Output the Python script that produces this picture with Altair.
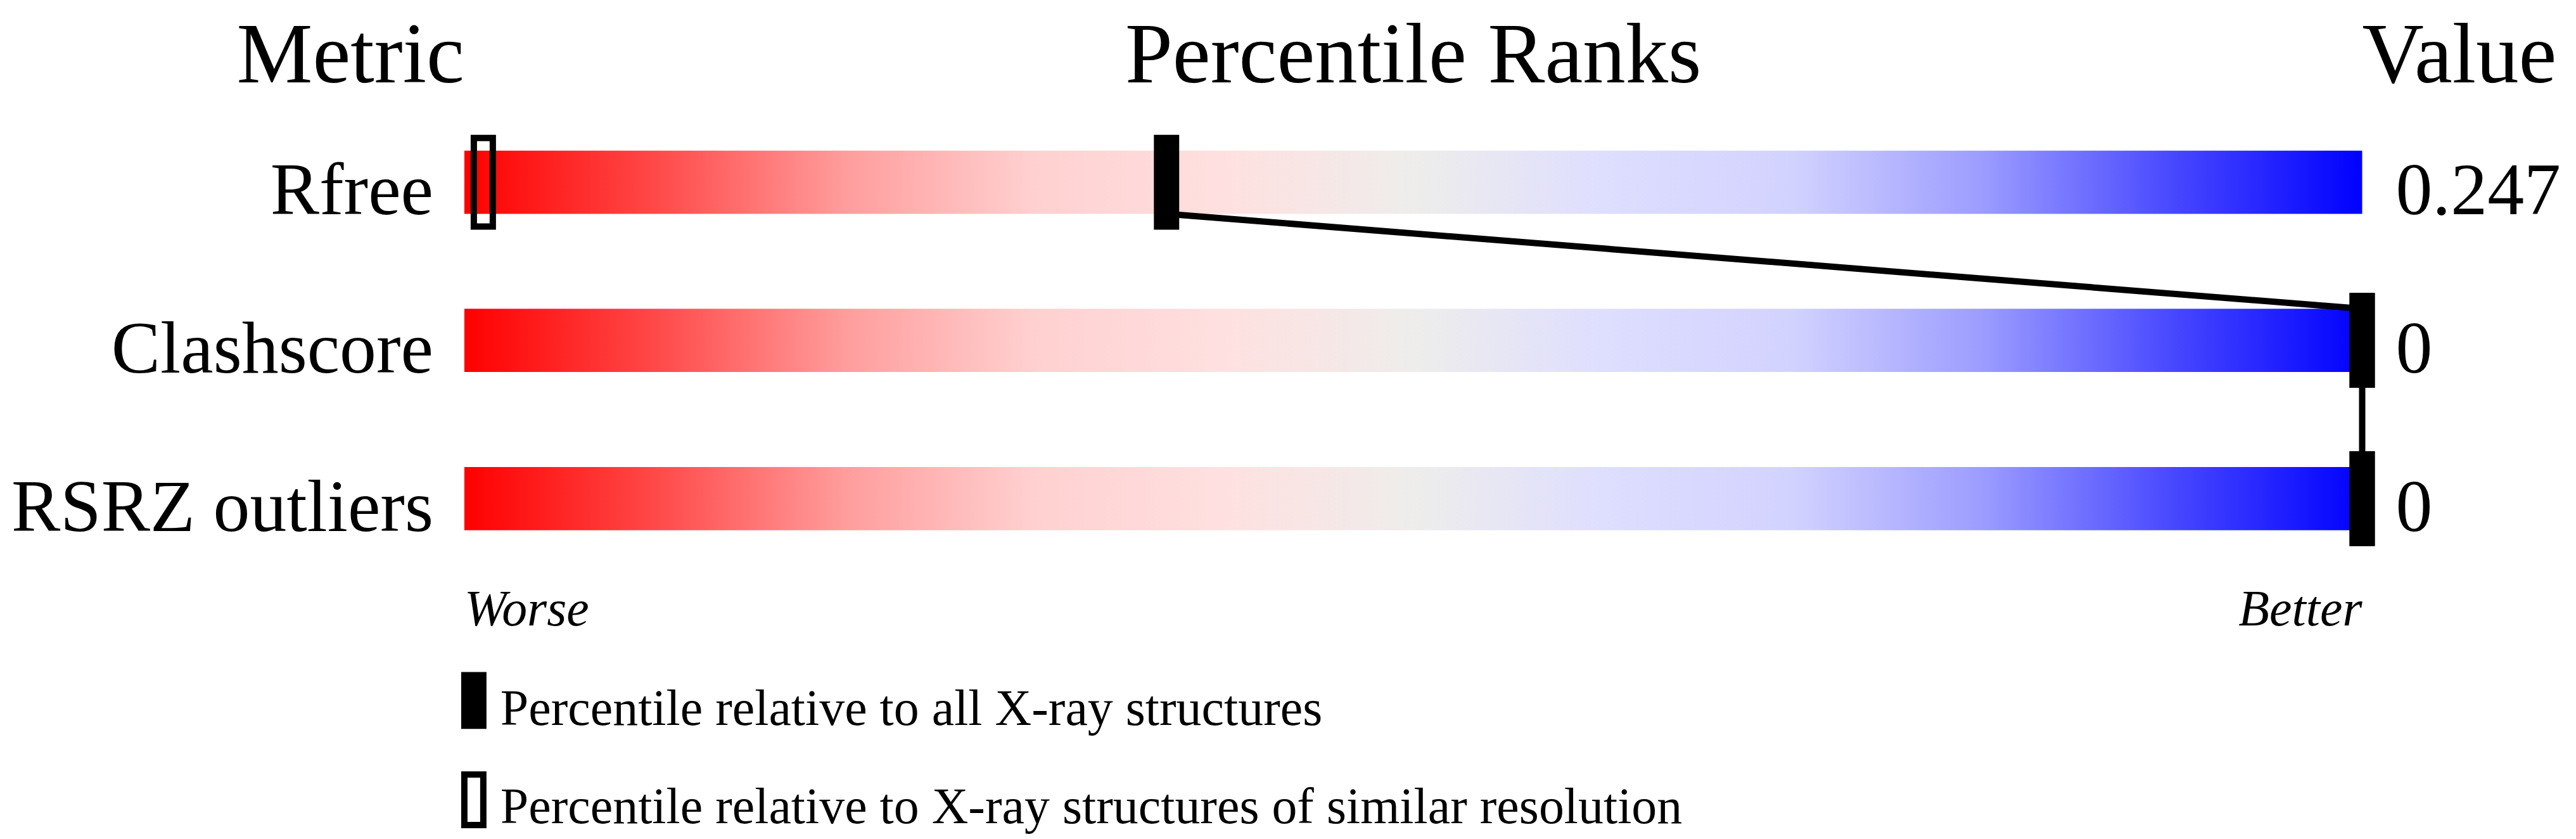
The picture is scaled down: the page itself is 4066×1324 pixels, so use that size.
import altair as alt
import pandas as pd

# ---- data ----
metrics = ["Rfree", "Clashscore", "RSRZ outliers"]
pct_all = [37, 100, 100]          # percentile relative to all X-ray structures
pct_similar = [1, 100, 100]       # percentile relative to similar resolution
values = ["0.247", "0", "0"]
scale_min, scale_max = 0, 100
headers = ["Metric", "Percentile Ranks", "Value"]
ends = ["Worse", "Better"]
legend_labels = [
    "Percentile relative to all X-ray structures",
    "Percentile relative to X-ray structures of similar resolution",
]

rows = list(range(len(metrics)))
df = pd.DataFrame({
    "metric": metrics, "row": rows, "pct_all": pct_all,
    "pct_similar": pct_similar, "value": values,
    "lo": [scale_min] * len(metrics), "hi": [scale_max] * len(metrics),
})
links = pd.DataFrame({
    "row": rows[:-1], "row_next": rows[1:],
    "p": pct_all[:-1], "p_next": pct_all[1:],
})
one = pd.DataFrame({"k": [0]})

# ---- styling ----
FONT = "Liberation Serif"
W, H = 4056, 1310
x_scale = alt.Scale(domain=[scale_min, scale_max], range=[726, 3726], nice=False, zero=False)
y_scale = alt.Scale(domain=[0, len(metrics) - 1], range=[279, 779], nice=False, zero=False)

stops = [
    (0.0, "#ff0000"), (0.1, "#ff4848"), (0.2, "#ff9c9c"), (0.3, "#ffd0d0"),
    (0.4, "#ffe0e0"), (0.5, "#eeedeb"), (0.6, "#dedeff"), (0.7, "#d2d2ff"),
    (0.8, "#9c9cff"), (0.9, "#4848ff"), (1.0, "#0000ff"),
]
grad = alt.LinearGradient(
    gradient="linear",
    stops=[alt.GradientStop(color=c, offset=o) for o, c in stops],
    x1=0, x2=1, y1=0, y2=0,
)

X = lambda f: alt.X(f, scale=x_scale, axis=None)
Y = lambda f: alt.Y(f, scale=y_scale, axis=None)

bars = alt.Chart(df).mark_rect(color=grad, yOffset=-50, y2Offset=50).encode(
    x=X("lo:Q"), x2="hi", y=Y("row:Q"), y2="row"
)

open_marks = alt.Chart(df).mark_rect(
    fill="transparent", stroke="black", strokeWidth=10,
    xOffset=-15, x2Offset=15, yOffset=-70, y2Offset=70,
).encode(x=X("pct_similar:Q"), x2="pct_similar", y=Y("row:Q"), y2="row")

connector = alt.Chart(links).mark_rule(
    color="black", strokeWidth=10, yOffset=50, y2Offset=-50
).encode(x=X("p:Q"), x2="p_next", y=Y("row:Q"), y2="row_next")

filled_marks = alt.Chart(df).mark_rect(
    color="black", xOffset=-20, x2Offset=20, yOffset=-75, y2Offset=75,
).encode(x=X("pct_all:Q"), x2="pct_all", y=Y("row:Q"), y2="row")

row_labels = alt.Chart(df).mark_text(
    align="right", baseline="alphabetic", font=FONT, fontSize=116, dx=-49, dy=51, color="black"
).encode(x=X("lo:Q"), y=Y("row:Q"), text="metric:N")

value_labels = alt.Chart(df).mark_text(
    align="left", baseline="alphabetic", font=FONT, fontSize=116, dx=53, dy=51, color="black"
).encode(x=X("hi:Q"), y=Y("row:Q"), text="value:N")

def header(txt, pos, align, dx=0):
    return alt.Chart(one).mark_text(
        align=align, baseline="alphabetic", font=FONT, fontSize=135, dx=dx, color="black"
    ).encode(x=alt.X(datum=pos, scale=x_scale, axis=None), y=alt.value(121), text=alt.value(txt))

h1 = header(headers[0], scale_min, "right")
h2 = header(headers[1], (scale_min + scale_max) / 2, "center")
h3 = header(headers[2], scale_max, "left")

def end_label(txt, pos, align):
    return alt.Chart(one).mark_text(
        align=align, baseline="alphabetic", font=FONT, fontSize=80, fontStyle="italic", color="black"
    ).encode(x=alt.X(datum=pos, scale=x_scale, axis=None), y=alt.value(979), text=alt.value(txt))

worse = end_label(ends[0], scale_min, "left")
better = end_label(ends[1], scale_max, "right")

leg_fill = alt.Chart(one).mark_rect(color="black").encode(
    x=alt.value(721), x2=alt.value(761), y=alt.value(1053), y2=alt.value(1143)
)
leg_open = alt.Chart(one).mark_rect(fill="transparent", stroke="black", strokeWidth=10).encode(
    x=alt.value(726), x2=alt.value(756), y=alt.value(1215), y2=alt.value(1295)
)
leg_t1 = alt.Chart(one).mark_text(
    align="left", baseline="alphabetic", font=FONT, fontSize=80, color="black"
).encode(x=alt.value(783), y=alt.value(1137), text=alt.value(legend_labels[0]))
leg_t2 = alt.Chart(one).mark_text(
    align="left", baseline="alphabetic", font=FONT, fontSize=80, color="black"
).encode(x=alt.value(783), y=alt.value(1292), text=alt.value(legend_labels[1]))

chart = alt.layer(
    bars, open_marks, connector, filled_marks, row_labels, value_labels,
    h1, h2, h3, worse, better, leg_fill, leg_open, leg_t1, leg_t2,
).properties(
    width=W, height=H, autosize=alt.AutoSizeParams(type="none"), padding=0,
    background="white",
).configure_view(strokeWidth=0)

chart.save("out.html", embed_options={"renderer": "svg", "actions": False})
